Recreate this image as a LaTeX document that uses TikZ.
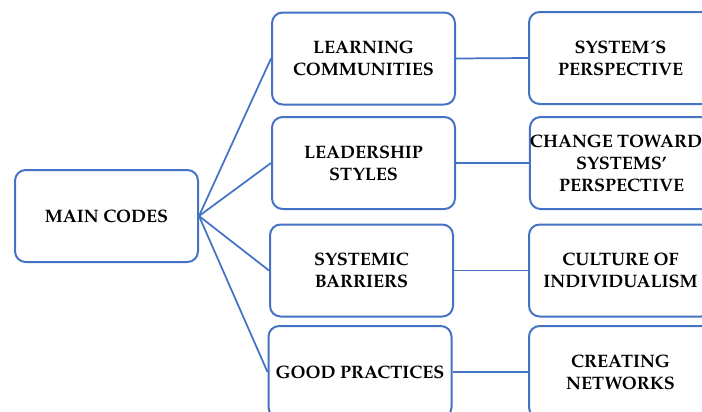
\documentclass[tikz,border=0pt]{standalone}
\usepackage{fontspec}
\setmainfont{TeX Gyre Pagella}
\definecolor{boxblue}{HTML}{4472C4}
\begin{document}
\begin{tikzpicture}[x=0.75pt,y=-0.75pt,
  codebox/.style={draw=boxblue,line width=1.5pt,rounded corners=8pt,
    minimum width=183*0.75pt,minimum height=92*0.75pt,align=center,
    font=\fontsize{13.5}{16.5}\selectfont\bfseries,inner sep=0pt},
  link/.style={draw=boxblue,line width=1.3pt}]
\useasboundingbox (0,0) rectangle (702,411);
\clip (0,0) rectangle (702,411);
% root
\node[codebox] (main) at (106.5,216) {MAIN CODES};
% middle column
\node[codebox] (lc) at (363.5,58.5) {LEARNING\\COMMUNITIES};
\node[codebox] (ls) at (363.5,163) {LEADERSHIP\\STYLES};
\node[codebox] (sb) at (361.5,270.5) {SYSTEMIC\\BARRIERS};
\node[codebox] (gp) at (360,372) {GOOD PRACTICES};
% right column
\node[codebox] (sp) at (620.5,58) {SYSTEM´S\\PERSPECTIVE};
\node[codebox] (ct) at (621.5,163) {CHANGE TOWARDS\\SYSTEMS\symbol{39}\\PERSPECTIVE};
\node[codebox] (ci) at (620.5,270.5) {CULTURE OF\\INDIVIDUALISM};
\node[codebox] (cn) at (620.5,372) {CREATING\\NETWORKS};
% connectors
\foreach \t in {lc,ls,sb,gp} \draw[link] (main.east) -- (\t.west);
\draw[link] (lc.east) -- (sp.west);
\draw[link] (ls.east) -- (ct.west);
\draw[link] (sb.east) -- (ci.west);
\draw[link] (gp.east) -- (cn.west);
\end{tikzpicture}
\end{document}
